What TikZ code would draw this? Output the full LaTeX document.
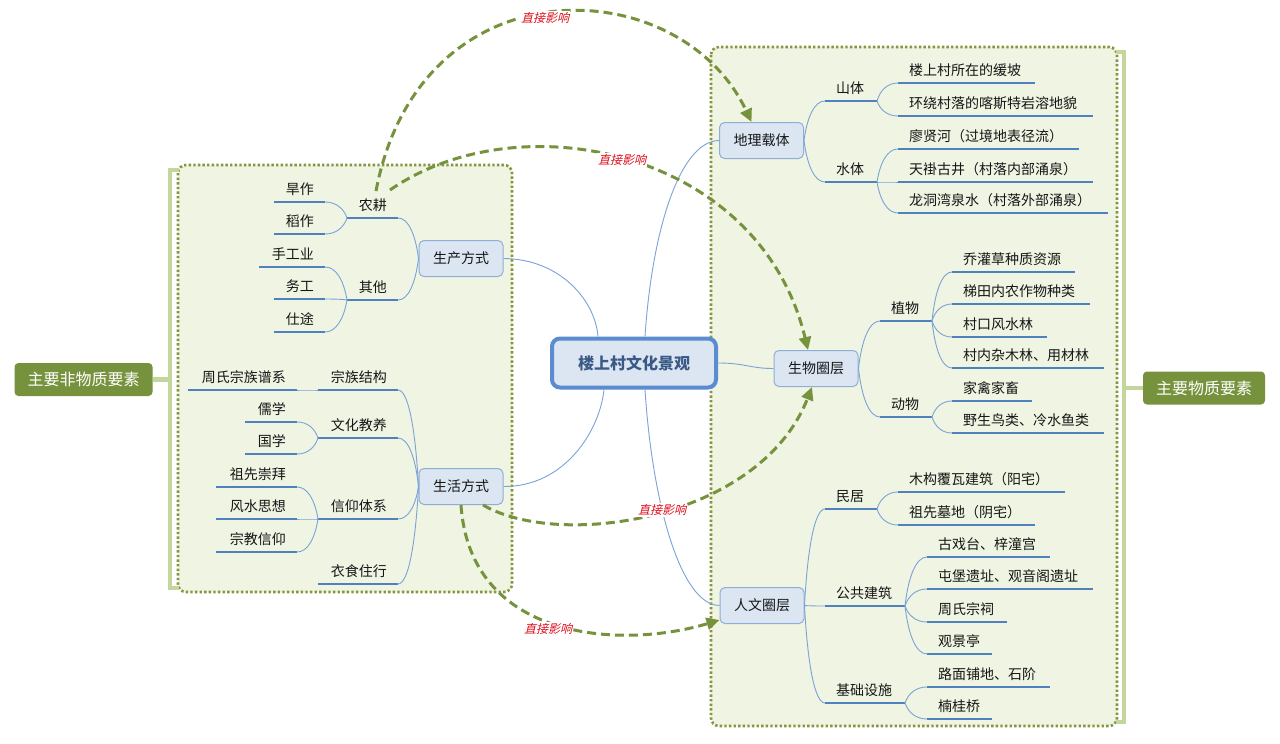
\documentclass[tikz,border=0pt]{standalone}
\usepackage{fontspec}
\setmainfont{Noto Sans CJK SC}
\newfontfamily\slantfont{Noto Sans CJK SC}[FakeSlant=0.25]
\usetikzlibrary{calc,arrows.meta}
\definecolor{ulblue}{HTML}{4F81BD}
\definecolor{brblue}{HTML}{7BA3D6}
\definecolor{nodefill}{HTML}{DCE6F2}
\definecolor{nodedraw}{HTML}{8EAED6}
\definecolor{ctrdraw}{HTML}{5B8BD0}
\definecolor{ctrtext}{HTML}{3A5A86}
\definecolor{boxfill}{HTML}{EFF4E3}
\definecolor{boxdraw}{HTML}{86963E}
\definecolor{bracketcol}{HTML}{C3D69B}
\definecolor{olivecol}{HTML}{76923C}
\definecolor{arrowgreen}{HTML}{76923C}
\definecolor{lblred}{HTML}{E0101E}
\definecolor{txtcol}{HTML}{161616}
\newcommand\RItem[5]{\coordinate (#1a) at (#2,#4);\coordinate (#1b) at (#3,#4);\draw[ul] (#1a) -- (#1b);\node[txt,anchor=base west] (#1) at (#2+11,#4-8) {#5};}
\newcommand\LItem[5]{\coordinate (#1a) at (#2,#4);\coordinate (#1b) at (#3,#4);\draw[ul] (#1a) -- (#1b);\node[txt,anchor=base east] (#1) at (#3-11,#4-8) {#5};}
\begin{document}
\begin{tikzpicture}[x=1pt,y=-1pt,
  ul/.style={draw=ulblue, line width=2.8pt},
  br/.style={draw=brblue, line width=0.9pt, to path={let \p1=(\tikztostart), \p2=(\tikztotarget) in .. controls (\x1+0.15*\x2-0.15*\x1, 0.4*\y1+0.6*\y2) and (0.5*\x1+0.5*\x2, \y2) .. (\tikztotarget)}},
  cbr/.style={draw=brblue, line width=0.9pt},
  txt/.style={font=\fontsize{14}{16}\selectfont, text=txtcol, inner sep=0pt},
  lone/.style={draw=nodedraw, fill=nodefill, line width=1pt, rounded corners=5pt, minimum width=84pt, minimum height=36pt, inner sep=0pt, font=\fontsize{14}{16}\selectfont, text=txtcol},
  ctr/.style={draw=ctrdraw, fill=nodefill, line width=4pt, rounded corners=8pt, minimum width=164pt, minimum height=49pt, font=\fontsize{16}{18}\selectfont\bfseries, text=ctrtext},
  grp/.style={draw=boxdraw, fill=boxfill, line width=2.6pt, dash pattern=on 2.4pt off 2.2pt, rounded corners=8pt},
  brk/.style={draw=bracketcol, line width=4.5pt},
  sidelbl/.style={fill=olivecol, text=white, rounded corners=4pt, font=\fontsize{16}{18}\selectfont, minimum height=33pt, inner xsep=13pt},
  dep/.style={draw=arrowgreen, line width=3pt, dash pattern=on 9pt off 5pt, -{Triangle[length=13pt,width=12pt]}},
  lbl/.style={font=\slantfont\fontsize{12}{13}\selectfont, text=lblred, fill=white, inner sep=1pt}]
\useasboundingbox (0,0) rectangle (1280,744);
\fill[white] (0,0) rectangle (1280,744);
% group boxes
\draw[grp] (178,165) rectangle (512,592);
\draw[grp] (711,47) rectangle (1117,726);
% brackets and side labels
\node[sidelbl] (lside) at (83.5,379.5) {主要非物质要素};
\node[sidelbl] (rside) at (1204,388) {主要物质要素};
\draw[brk] (179,170) -- (170,170) -- (170,588) -- (179,588);
\draw[brk] (lside.east) -- (170,379.5);
\draw[brk] (1116,52) -- (1124,52) -- (1124,722) -- (1116,722);
\draw[brk] (1124,388) -- (rside.west);
% main nodes
\node[ctr] (ctr) at (634,363) {楼上村文化景观};
\node[lone] (prod) at (461,258.5) {生产方式};
\node[lone] (life) at (461,486.5) {生活方式};
\node[lone] (geo) at (761.5,140.5) {地理载体};
\node[lone] (bio) at (816,368.5) {生物圈层};
\node[lone] (hum) at (762,605.5) {人文圈层};
% center connectors
\draw[cbr] (prod.east) .. controls (560,259) and (595,300) .. ([xshift=-36pt]ctr.north);
\draw[cbr] (life.east) .. controls (565,487) and (600,430) .. ([xshift=-30pt]ctr.south);
\draw[cbr] ([xshift=11pt]ctr.north) .. controls (652,230) and (680,141) .. (geo.west);
\draw[cbr] (ctr.east) .. controls (745,363) and (750,368.5) .. (bio.west);
\draw[cbr] ([xshift=11pt]ctr.south) .. controls (652,500) and (680,605) .. (hum.west);
% ---- right: geo
\RItem{shan}{825}{877}{101}{山体}
\RItem{shui}{825}{877}{182}{水体}
\draw[br] (geo.east) to (shana);
\draw[br] (geo.east) to (shuia);
\RItem{ga}{898}{1035}{83}{楼上村所在的缓坡}
\RItem{gb}{898}{1093}{116}{环绕村落的喀斯特岩溶地貌}
\draw[br] (shanb) to (gaa);
\draw[br] (shanb) to (gba);
\RItem{gc}{898}{1079}{149}{廖贤河（过境地表径流）}
\RItem{gd}{898}{1093}{182}{天褂古井（村落内部涌泉）}
\RItem{ge}{898}{1108}{213}{龙洞湾泉水（村落外部涌泉）}
\draw[br] (shuib) to (gca);
\draw[br] (shuib) to (gda);
\draw[br] (shuib) to (gea);
% ---- right: bio
\RItem{zhi}{880}{932}{321}{植物}
\RItem{dong}{880}{932}{417}{动物}
\draw[br] (bio.east) to (zhia);
\draw[br] (bio.east) to (donga);
\RItem{ba}{952}{1075}{272}{乔灌草种质资源}
\RItem{bb}{952}{1090}{304}{梯田内农作物种类}
\RItem{bc}{952}{1047}{337}{村口风水林}
\RItem{bd}{952}{1104}{368}{村内杂木林、用材林}
\draw[br] (zhib) to (baa);
\draw[br] (zhib) to (bba);
\draw[br] (zhib) to (bca);
\draw[br] (zhib) to (bda);
\RItem{be}{952}{1032}{401}{家禽家畜}
\RItem{bf}{952}{1104}{433}{野生鸟类、冷水鱼类}
\draw[br] (dongb) to (bea);
\draw[br] (dongb) to (bfa);
% ---- right: hum
\RItem{minju}{825}{877}{509}{民居}
\RItem{gong}{825}{905}{606}{公共建筑}
\RItem{jichu}{825}{905}{703}{基础设施}
\draw[br] (hum.east) to (minjua);
\draw[br] (hum.east) to (gonga);
\draw[br] (hum.east) to (jichua);
\RItem{ha}{898}{1065}{492}{木构覆瓦建筑（阳宅）}
\RItem{hb}{898}{1035}{525}{祖先墓地（阴宅）}
\draw[br] (minjub) to (haa);
\draw[br] (minjub) to (hba);
\RItem{hc}{927}{1050}{557}{古戏台、梓潼宫}
\RItem{hd}{927}{1093}{589}{屯堡遗址、观音阁遗址}
\RItem{he}{927}{1007}{622}{周氏宗祠}
\RItem{hf}{927}{992}{654}{观景亭}
\draw[br] (gongb) to (hca);
\draw[br] (gongb) to (hda);
\draw[br] (gongb) to (hea);
\draw[br] (gongb) to (hfa);
\RItem{hg}{927}{1050}{687}{路面铺地、石阶}
\RItem{hh}{927}{992}{719}{楠桂桥}
\draw[br] (jichub) to (hga);
\draw[br] (jichub) to (hha);
% ---- left: prod
\LItem{nong}{347}{398}{218}{农耕}
\LItem{qita}{347}{398}{300}{其他}
\draw[br] (prod.west) to (nongb);
\draw[br] (prod.west) to (qitab);
\LItem{pa}{274}{325}{202}{旱作}
\LItem{pb}{274}{325}{234}{稻作}
\draw[br] (nonga) to (pab);
\draw[br] (nonga) to (pbb);
\LItem{pc}{259}{325}{267}{手工业}
\LItem{pd}{274}{325}{299}{务工}
\LItem{pe}{274}{325}{332}{仕途}
\draw[br] (qitaa) to (pcb);
\draw[br] (qitaa) to (pdb);
\draw[br] (qitaa) to (peb);
% ---- left: life
\LItem{zu}{318}{398}{390}{宗族结构}
\LItem{wen}{318}{398}{438}{文化教养}
\LItem{xin}{318}{398}{519}{信仰体系}
\LItem{yi}{318}{398}{584}{衣食住行}
\draw[br] (life.west) to (zub);
\draw[br] (life.west) to (wenb);
\draw[br] (life.west) to (xinb);
\draw[br] (life.west) to (yib);
\LItem{sa}{188}{297}{390}{周氏宗族谱系}
\draw[br] (zua) to (sab);
\LItem{sb}{245}{297}{422}{儒学}
\LItem{sc}{245}{297}{454}{国学}
\draw[br] (wena) to (sbb);
\draw[br] (wena) to (scb);
\LItem{sd}{216}{297}{487}{祖先崇拜}
\LItem{se}{216}{297}{519}{风水思想}
\LItem{sf}{216}{297}{552}{宗教信仰}
\draw[br] (xina) to (sdb);
\draw[br] (xina) to (seb);
\draw[br] (xina) to (sfb);
% ---- dashed influence arrows
\coordinate (aones) at (376,191);
\coordinate (atwos) at (390,190);
\draw[dep] (aones) .. controls (420,-40) and (680,-30) .. ([xshift=-10pt]geo.north);
\node[lbl] (lbla) at (545,18) {直接影响};
\draw[dep] (atwos) .. controls (520,100) and (760,150) .. ([xshift=-8pt]bio.north);
\node[lbl] (lblb) at (622,160) {直接影响};
\draw[dep] ([xshift=22pt]life.south) .. controls (560,550) and (760,520) .. ([xshift=-4pt]bio.south);
\node[lbl] (lblc) at (662,510) {直接影响};
\draw[dep] (life.south) .. controls (470,640) and (620,650) .. ([yshift=4pt]hum.south west);
\node[lbl] (lbld) at (548,629) {直接影响};
\end{tikzpicture}
\end{document}
